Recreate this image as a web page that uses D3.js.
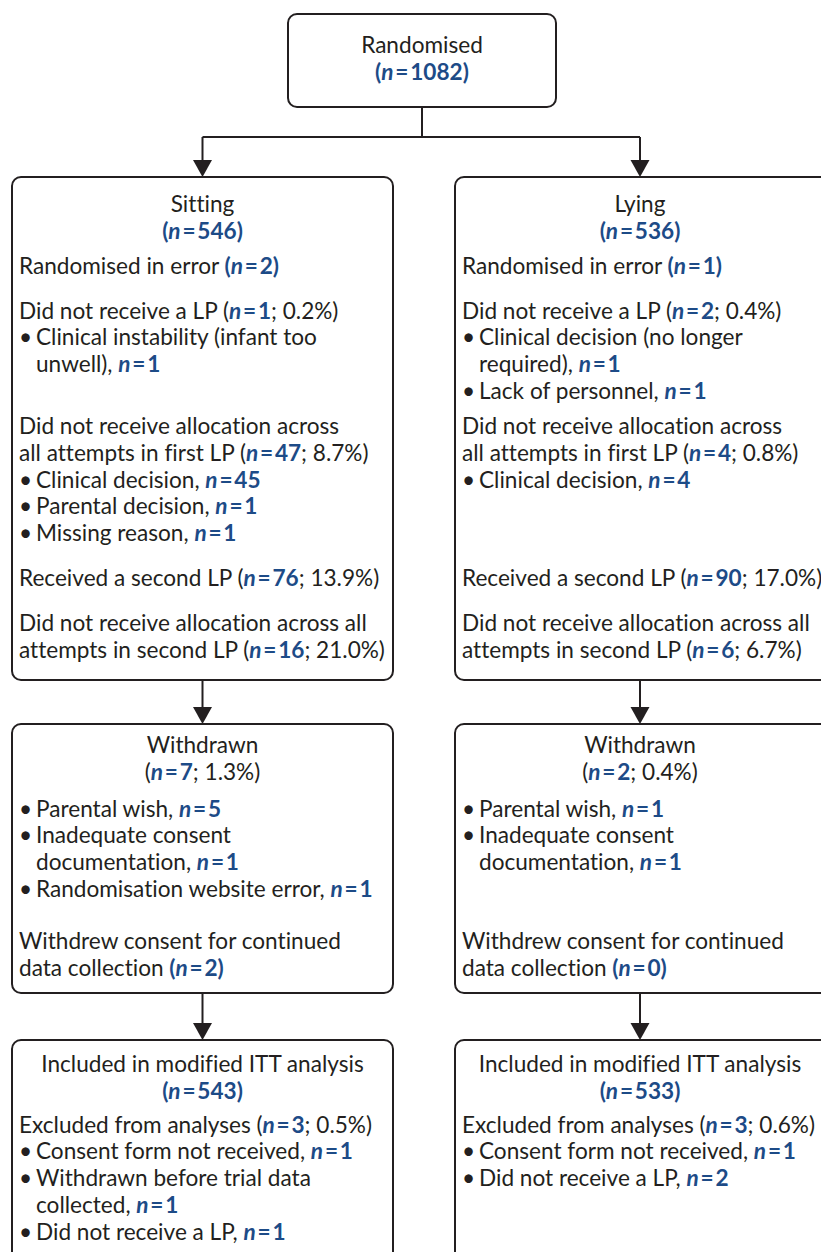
<!DOCTYPE html>
<html><head><meta charset="utf-8">
<script src="https://cdn.jsdelivr.net/npm/d3@7"></script>
<style>body{margin:0;background:#fff} svg{display:block} text{white-space:pre;font-variant-ligatures:no-common-ligatures}</style>
</head><body><svg id="c" width="821" height="1252"></svg>
<script>
// ---------- content (data) ----------
const arms = ["Sitting", "Lying"];
const randomisedLines = ["Randomised", "*(n=1082)*"];
const allocationTitles = [["Sitting", "*(n=546)*"], ["Lying", "*(n=536)*"]];
const sittingAllocation = [
  ["Randomised in error *(n=2)*"],
  ["Did not receive a LP (*n=1*; 0.2%)", "• Clinical instability (infant too", "  unwell), *n=1*"],
  ["Did not receive allocation across", "all attempts in first LP (*n=47*; 8.7%)", "• Clinical decision, *n=45*", "• Parental decision, *n=1*", "• Missing reason, *n=1*"],
  ["Received a second LP (*n=76*; 13.9%)"],
  ["Did not receive allocation across all", "attempts in second LP (*n=16*; 21.0%)"]
];
const lyingAllocation = [
  ["Randomised in error *(n=1)*"],
  ["Did not receive a LP (*n=2*; 0.4%)", "• Clinical decision (no longer", "  required), *n=1*", "• Lack of personnel, *n=1*"],
  ["Did not receive allocation across", "all attempts in first LP (*n=4*; 0.8%)", "• Clinical decision, *n=4*"],
  ["Received a second LP (*n=90*; 17.0%)"],
  ["Did not receive allocation across all", "attempts in second LP (*n=6*; 6.7%)"]
];
const withdrawnTitles = [["Withdrawn", "(*n=7*; 1.3%)"], ["Withdrawn", "(*n=2*; 0.4%)"]];
const sittingWithdrawn = [
  ["• Parental wish, *n=5*", "• Inadequate consent", "  documentation, *n=1*", "• Randomisation website error, *n=1*"],
  ["Withdrew consent for continued", "data collection *(n=2)*"]
];
const lyingWithdrawn = [
  ["• Parental wish, *n=1*", "• Inadequate consent", "  documentation, *n=1*"],
  ["Withdrew consent for continued", "data collection *(n=0)*"]
];
const analysisTitles = [["Included in modified ITT analysis", "*(n=543)*"], ["Included in modified ITT analysis", "*(n=533)*"]];
const sittingAnalysis = [["Excluded from analyses (*n=3*; 0.5%)", "• Consent form not received, *n=1*", "• Withdrawn before trial data", "  collected, *n=1*", "• Did not receive a LP, *n=1*"]];
const lyingAnalysis = [["Excluded from analyses (*n=3*; 0.6%)", "• Consent form not received, *n=1*", "• Did not receive a LP, *n=2*"]];

// ---------- layout / style ----------
const TEXT = "#231f20", BLUE = "#1d4b87", FONT = "Lato", FS = 22.6;
const LH = 26.8, TITLE_LH = 26.5;
const col = d3.scaleOrdinal().domain(arms).range([[12, 393], [455, 830]]);
const stages = [
  { top: 177, bottom: 680, title: 212, gaps: [35, 45, 35, 45, 45], titles: allocationTitles, paras: [sittingAllocation, lyingAllocation] },
  { top: 724, bottom: 993, title: 753, gaps: [37, 52], titles: withdrawnTitles, paras: [sittingWithdrawn, lyingWithdrawn] },
  { top: 1040, bottom: 1290, title: 1072, gaps: [34], titles: analysisTitles, paras: [sittingAnalysis, lyingAnalysis] }
];

const svg = d3.select("#c").attr("font-family", FONT).attr("font-size", FS).attr("fill", TEXT);

function drawLine(g, str, x, y, anchor) {
  const t = g.append("text").attr("x", x).attr("y", y).attr("text-anchor", anchor || "start");
  str.split(/(\*[^*]+\*)/).filter(s => s.length).forEach(p => {
    if (p[0] === "*") {
      let prev = null;
      p.slice(1, -1).split(/(n|=)/).filter(s => s.length).forEach(q => {
        t.append("tspan").attr("fill", BLUE).attr("font-weight", 700)
          .attr("font-style", q === "n" ? "italic" : "normal")
          .attr("dx", (q === "=" || prev === "=") ? 1.8 : null)
          .text(q);
        prev = q;
      });
    } else {
      t.append("tspan").text(p);
    }
  });
}
function drawBodyLine(g, str, x, y) {
  if (str.startsWith("• ")) {
    g.append("text").attr("x", x).attr("y", y).text("•");
    drawLine(g, str.slice(2), x + 17, y);
  } else if (str.startsWith("  ")) {
    drawLine(g, str.slice(2), x + 17, y);
  } else drawLine(g, str, x, y);
}
function box(x0, x1, y0, y1) {
  svg.append("rect").attr("x", x0).attr("y", y0).attr("width", x1 - x0).attr("height", y1 - y0)
    .attr("rx", 9).attr("fill", "#fff").attr("stroke", TEXT).attr("stroke-width", 2);
}
const lines = svg.append("g").attr("stroke", TEXT).attr("stroke-width", 2);
function arrow(x, y1, y2) {
  lines.append("line").attr("x1", x).attr("x2", x).attr("y1", y1).attr("y2", y2 - 16);
  svg.append("path").attr("d", d3.line()([[x - 9.5, y2 - 17], [x + 9.5, y2 - 17], [x, y2]]) + "Z").attr("fill", TEXT);
}

// top box
box(288, 556, 14, 107);
drawLine(svg, randomisedLines[0], 422, 53, "middle");
drawLine(svg, randomisedLines[1], 422, 80, "middle");
const centers = arms.map(a => (col(a)[0] + Math.min(col(a)[1], 825)) / 2);
lines.append("line").attr("x1", 422).attr("x2", 422).attr("y1", 107).attr("y2", 137);
lines.append("line").attr("x1", centers[0]).attr("x2", centers[1]).attr("y1", 137).attr("y2", 137);
centers.forEach(cx => arrow(cx, 137, stages[0].top));

stages.forEach((st, si) => {
  const starts = [];
  let y = st.title + TITLE_LH;
  st.gaps.forEach((gp, i) => {
    y += gp; starts.push(y);
    const maxLines = d3.max(st.paras, p => p[i].length);
    y += (maxLines - 1) * LH;
  });
  arms.forEach((a, ai) => {
    const [x0, x1] = col(a);
    box(x0, x1, st.top, st.bottom);
    const cx = centers[ai];
    st.titles[ai].forEach((s, k) => drawLine(svg, s, cx, st.title + k * TITLE_LH, "middle"));
    st.paras[ai].forEach((para, i) => para.forEach((s, k) => drawBodyLine(svg, s, x0 + 7, starts[i] + k * LH)));
    if (si < stages.length - 1) arrow(cx, st.bottom, stages[si + 1].top);
  });
});
</script></body></html>
